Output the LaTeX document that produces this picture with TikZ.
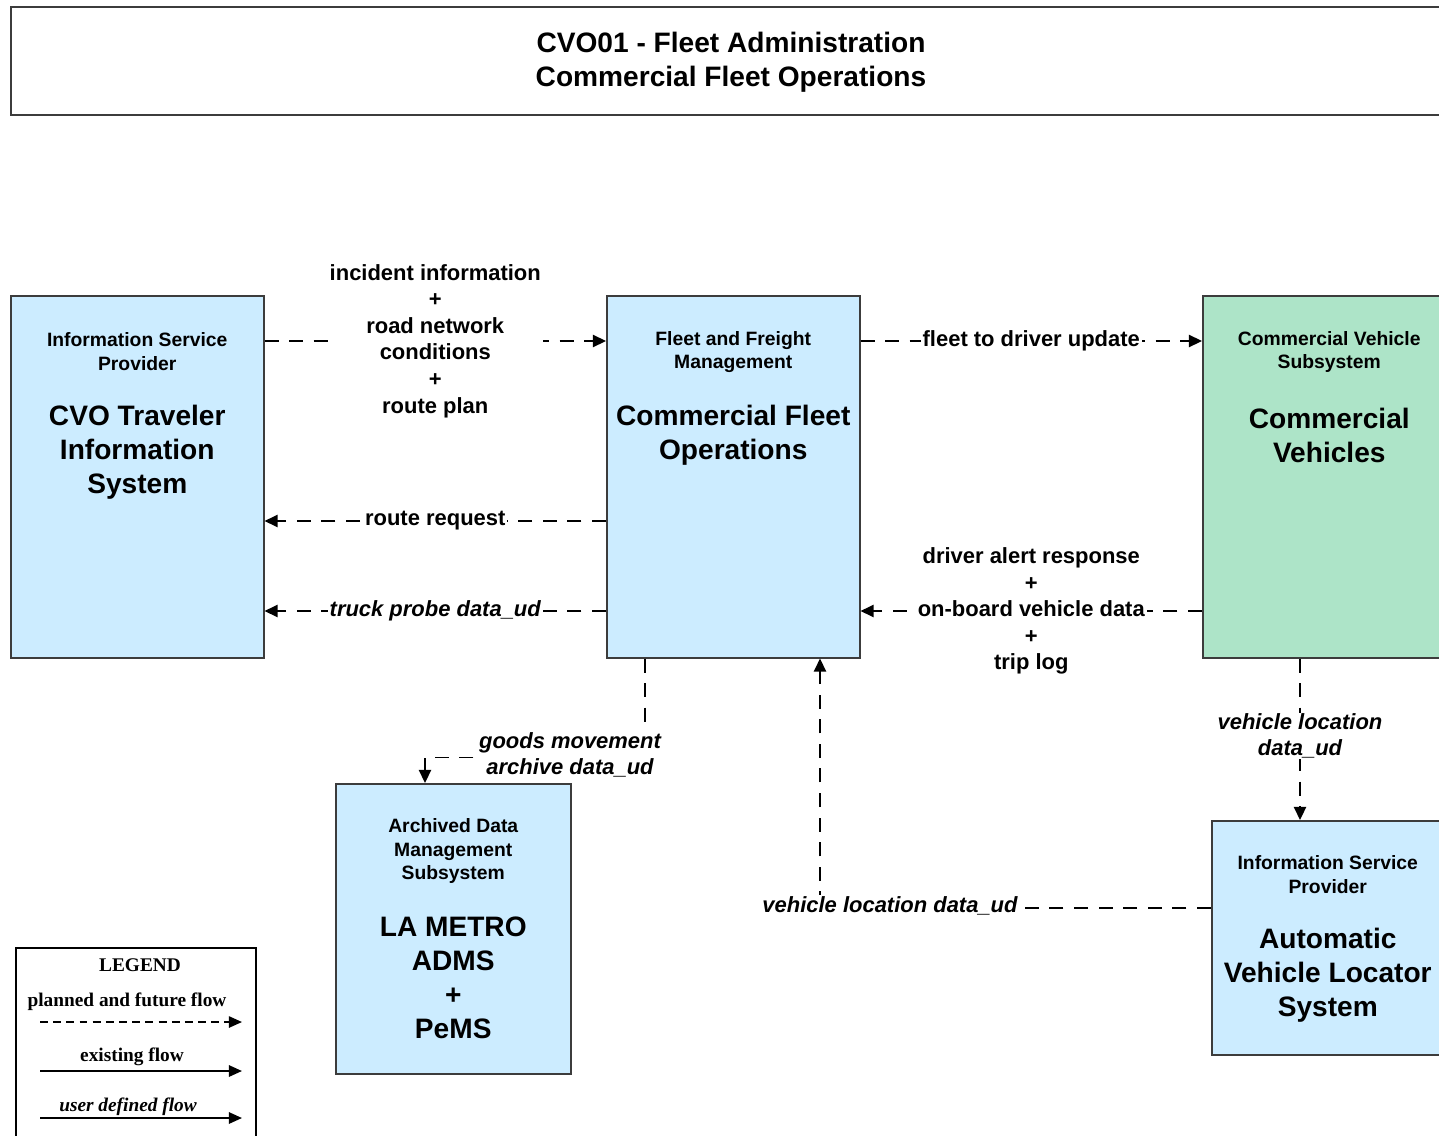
\documentclass[tikz,border=0pt]{standalone}
\usepackage{fontspec}
\setmainfont{Liberation Sans}
\newfontfamily\legserif{Liberation Serif}
\usetikzlibrary{arrows.meta, calc}
\definecolor{boxblue}{RGB}{204,236,255}
\definecolor{boxgreen}{RGB}{173,228,200}
\definecolor{edgegray}{RGB}{60,60,60}
\newcommand{\hdrfont}{\bfseries\fontsize{11}{13.6}\selectfont}
\newcommand{\sysfont}{\bfseries\fontsize{16}{19.3}\selectfont}
\newcommand{\flowfont}{\bfseries\fontsize{12.5}{15.1}\selectfont}
\newcommand{\legfont}{\legserif\bfseries\fontsize{11}{13}\selectfont}
\tikzset{
  sysbox/.style={rectangle, draw=edgegray, line width=0.9pt, anchor=north west, inner sep=0pt},
  hdr/.style={font=\hdrfont, align=center},
  sysname/.style={font=\sysfont, align=center},
  lbl/.style={fill=white, font=\flowfont, align=center, inner sep=1pt},
  ilbl/.style={lbl, font=\flowfont\itshape},
  flow/.style={line width=0.9pt, dash pattern=on 8pt off 6pt, -{Triangle[length=7.5pt, width=7pt]}},
  legarrow/.style={line width=1.1pt, -{Triangle[length=7.5pt, width=6.5pt]}},
}

\begin{document}
\begin{tikzpicture}[x=0.02cm, y=-0.02cm]
\useasboundingbox (0,0) rectangle (1439,1135);
\clip (0,0) rectangle (1439,1135);

% title
\node[sysbox, minimum width=28.8cm, minimum height=2.16cm] (titlebox) at (10,6) {};
\node[sysname] (title) at (731,62) {CVO01 - Fleet Administration\\Commercial Fleet Operations};

% systems
\node[sysbox, fill=boxblue, minimum width=5.06cm, minimum height=7.24cm] (isp) at (10,295) {};
\node[hdr] (ispH) at ($(isp.north)+(0,57)$) {Information Service\\Provider};
\node[sysname] (ispT) at ($(isp.north)+(0,157)$) {CVO Traveler\\Information\\System};

\node[sysbox, fill=boxblue, minimum width=5.06cm, minimum height=7.24cm] (cfo) at (606,295) {};
\node[hdr] (cfoH) at ($(cfo.north)+(0,57)$) {Fleet and Freight\\Management};
\node[sysname] (cfoT) at ($(cfo.north)+(0,140)$) {Commercial Fleet\\Operations};

\node[sysbox, fill=boxgreen, minimum width=5.06cm, minimum height=7.24cm] (cv) at (1202,295) {};
\node[hdr] (cvH) at ($(cv.north)+(0,57)$) {Commercial Vehicle\\Subsystem};
\node[sysname] (cvT) at ($(cv.north)+(0,140)$) {Commercial\\Vehicles};

\node[sysbox, fill=boxblue, minimum width=4.7cm, minimum height=5.8cm] (adms) at (335,783) {};
\node[hdr] (admsH) at ($(adms.north)+(0,68)$) {Archived Data\\Management\\Subsystem};
\node[sysname] (admsT) at ($(adms.north)+(0,195)$) {LA METRO\\ADMS\\+\\PeMS};

\node[sysbox, fill=boxblue, minimum width=4.64cm, minimum height=4.68cm] (avl) at (1211,820) {};
\node[hdr] (avlH) at ($(avl.north)+(0,55)$) {Information Service\\Provider};
\node[sysname] (avlT) at ($(avl.north)+(0,155)$) {Automatic\\Vehicle Locator\\System};

% flows
\draw[flow] (isp.east |- 0,341) -- node[lbl] (incLbl) {incident information\\+\\road network\\conditions\\+\\route plan} (cfo.west |- 0,341);
\draw[flow] (cfo.west |- 0,521) -- node[lbl] (rrLbl) {route request} (isp.east |- 0,521);
\draw[flow] (cfo.west |- 0,611) -- node[ilbl] (tpLbl) {truck probe data\_ud} (isp.east |- 0,611);
\draw[flow] (cfo.east |- 0,341) -- node[lbl] (fdLbl) {fleet to driver update} (cv.west |- 0,341);
\draw[flow] (cv.west |- 0,611) -- node[lbl] (daLbl) {driver alert response\\+\\on-board vehicle data\\+\\trip log} (cfo.east |- 0,611);

\draw[flow] ($(cfo.south west)+(39,0)$) -- ++(0,99) -| ($(adms.north west)+(90,0)$);
\node[ilbl] (gmLbl) at (570,755) {goods movement\\archive data\_ud};

\draw[flow] ($(avl.north west)+(0,88)$) -| ($(cfo.south west)+(214,0)$);
\node[ilbl] (vlLbl) at (890,906) {vehicle location data\_ud};

\draw[flow] ($(cv.south west)+(98,0)$) -- ($(avl.north west)+(89,0)$);
\node[ilbl, inner sep=0pt] (vlLbl2) at (1300,736) {vehicle location\\data\_ud};

% legend
\node[sysbox, draw=black, fill=white, minimum width=4.8cm, minimum height=4cm] (legend) at (15,947) {};
\node[font=\legfont] (legT) at ($(legend.north west)+(125,18)$) {LEGEND};
\node[font=\legfont] (legP) at ($(legend.north west)+(112,55)$) {planned and future flow};
\draw[legarrow, line width=0.9pt, dash pattern=on 4.5pt off 3pt] ($(legend.north west)+(25,75)$) -- ++(202,0);
\node[font=\legfont] (legE) at ($(legend.north west)+(117,110)$) {existing flow};
\draw[legarrow] ($(legend.north west)+(25,124)$) -- ++(202,0);
\node[font=\legfont\itshape] (legU) at ($(legend.north west)+(113,160)$) {user defined flow};
\draw[legarrow] ($(legend.north west)+(25,171)$) -- ++(202,0);
\end{tikzpicture}
\end{document}
